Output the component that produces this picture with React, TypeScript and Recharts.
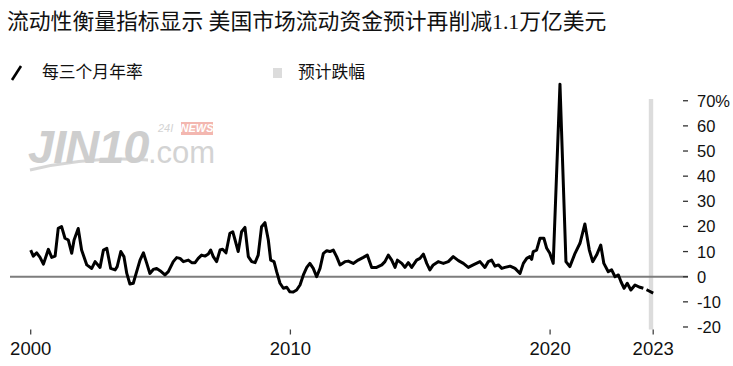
import React from 'react';
import { LineChart, Line, XAxis, YAxis, ReferenceLine, ReferenceArea } from 'recharts';

const dates = [
  2000.0, 2000.1, 2000.23, 2000.36, 2000.49, 2000.68, 2000.81, 2000.94, 2001.06, 2001.19,
  2001.32, 2001.45, 2001.58, 2001.67, 2001.83, 2001.96, 2002.16, 2002.35, 2002.48, 2002.67,
  2002.8, 2002.93, 2003.08, 2003.25, 2003.33, 2003.47, 2003.59, 2003.7, 2003.82, 2003.95,
  2004.08, 2004.21, 2004.34, 2004.47, 2004.59, 2004.72, 2004.85, 2004.98, 2005.17, 2005.3,
  2005.49, 2005.62, 2005.75, 2005.88, 2006.07, 2006.2, 2006.33, 2006.45, 2006.58, 2006.71,
  2006.84, 2006.93, 2007.03, 2007.16, 2007.29, 2007.39, 2007.52, 2007.67, 2007.78, 2007.87,
  2007.99, 2008.12, 2008.25, 2008.38, 2008.51, 2008.64, 2008.76, 2008.89, 2009.02, 2009.15,
  2009.24, 2009.37, 2009.47, 2009.6, 2009.73, 2009.86, 2009.98, 2010.11, 2010.24, 2010.37,
  2010.5, 2010.63, 2010.75, 2010.88, 2011.01, 2011.14, 2011.27, 2011.4, 2011.52, 2011.65,
  2011.78, 2011.91, 2012.1, 2012.23, 2012.42, 2012.61, 2012.81, 2012.96, 2013.13, 2013.32,
  2013.52, 2013.64, 2013.77, 2013.9, 2014.03, 2014.12, 2014.29, 2014.41, 2014.54, 2014.67,
  2014.86, 2014.99, 2015.12, 2015.25, 2015.37, 2015.5, 2015.69, 2015.89, 2016.08, 2016.27,
  2016.47, 2016.66, 2016.85, 2017.04, 2017.3, 2017.49, 2017.62, 2017.75, 2017.88, 2018.01,
  2018.14, 2018.26, 2018.46, 2018.65, 2018.84, 2018.97, 2019.1, 2019.22, 2019.29, 2019.35,
  2019.48, 2019.61, 2019.76, 2019.87, 2019.99, 2020.12, 2020.38, 2020.61, 2020.76, 2020.96,
  2021.15, 2021.34, 2021.51, 2021.64, 2021.79, 2021.95, 2022.07, 2022.24, 2022.37, 2022.5,
  2022.63, 2022.73, 2022.85, 2022.97, 2023.11, 2023.27, 2023.46, 2023.59,
];

const liquidity = [
  10.6, 8.2, 9.5, 7.7, 5.0, 10.9, 7.7, 8.2, 19.2, 19.9,
  15.3, 14.6, 9.3, 14.6, 19.2, 10.6, 4.7, 3.3, 6.0, 3.7,
  10.6, 11.3, 3.3, 2.7, 4.0, 10.0, 8.0, 1.3, -2.9, -2.6,
  2.0, 6.6, 9.5, 5.3, 1.3, 2.9, 3.3, 2.4, 0.7, 2.0,
  6.0, 7.6, 7.3, 6.0, 6.6, 5.6, 5.6, 7.3, 8.6, 8.2,
  9.0, 10.6, 8.0, 6.0, 10.6, 10.9, 9.5, 17.3, 17.9, 14.6,
  10.0, 17.9, 19.6, 8.0, 6.0, 5.6, 8.6, 19.9, 21.5, 14.6,
  6.6, 6.0, 2.0, -2.6, -4.6, -4.2, -6.0, -6.1, -5.3, -3.3,
  0.7, 3.7, 5.3, 3.3, 0.0, 3.3, 9.3, 10.3, 10.0, 10.6,
  8.0, 4.7, 6.0, 6.2, 5.3, 6.6, 7.7, 8.6, 3.7, 3.7,
  4.7, 6.0, 8.6, 6.6, 3.7, 6.6, 5.3, 3.7, 5.6, 3.7,
  6.6, 7.3, 9.0, 5.3, 2.7, 4.7, 6.0, 5.3, 6.0, 8.0,
  6.4, 5.3, 3.7, 4.7, 6.0, 3.7, 6.0, 6.6, 4.2, 4.7,
  3.3, 3.7, 4.2, 3.3, 1.3, 5.3, 7.3, 8.0, 6.9, 10.0,
  10.6, 15.3, 15.3, 11.3, 9.3, 5.3, 76.6, 6.0, 4.0, 9.3,
  13.3, 21.0, 10.6, 6.0, 8.6, 12.6, 5.3, 2.0, 2.7, 0.0,
  0.7, -2.0, -4.6, -2.6, -5.3, -3.3, -4.2, -4.6,
];

const forecastDates = [2023.59, 2023.72, 2023.97];
const forecastValues = [-4.6, -5.2, -6.5];

const xTicks = [2000, 2010, 2020, 2023.97];
const xTickLabels = ['2000', '2010', '2020', '2023'];
const yTicks = [-20, -10, 0, 10, 20, 30, 40, 50, 60, 70];
const forecastWindow = [2023.8, 2023.97];
const forecastWindowTop = 70.7;

const seriesName = '每三个月年率';
const windowName = '预计跌幅';
const title = '流动性衡量指标显示 美国市场流动资金预计再削减1.1万亿美元';

type Row = { t: number; actual?: number | null; forecast?: number | null };
const data: Row[] = dates.map((t, i) => ({ t, actual: liquidity[i], forecast: null }));
forecastDates.forEach((t, i) => {
  const existing = data.find((r) => r.t === t);
  if (existing) existing.forecast = forecastValues[i];
  else data.push({ t, actual: null, forecast: forecastValues[i] });
});

const sans = '"Liberation Sans", Arial, "Noto Sans CJK SC", sans-serif';

const YTick = (props: any) => {
  const { x, y, payload } = props;
  const v = payload.value;
  const label = v === 70 ? '70%' : String(v);
  return (
    <g>
      <line x1={x - 5} x2={x} y1={y} y2={y} stroke="#333" strokeWidth={1.3} />
      <text x={x + 9} y={y} dy="0.36em" fontSize={16.5} fill="#111" fontFamily={sans} textAnchor="start">
        {label}
      </text>
    </g>
  );
};

export default function App() {
  return (
    <div style={{ position: 'absolute', left: 0, top: 0, width: 733, height: 366, background: '#fff', overflow: 'hidden' }}>
      <div
        style={{
          position: 'absolute',
          left: 7,
          top: 11,
          fontSize: 21.8,
          lineHeight: '22px',
          fontFamily: '"Liberation Serif", "Noto Sans CJK SC", serif',
          color: '#111',
          whiteSpace: 'nowrap',
        }}
      >
        {title}
      </div>
      <svg style={{ position: 'absolute', left: 0, top: 0 }} width={733} height={366}>
        <line x1={12} y1={80} x2={21} y2={66} stroke="#000" strokeWidth={2.6} />
        <rect x={273} y={68} width={9} height={10} fill="#dcdcdc" />
        {/* watermark */}
        <g opacity={0.9}>
          <path d="M30 170 Q 90 156 148 160" stroke="#d2d2d2" strokeWidth={3} fill="none" />
          <text x={28} y={163} fontSize={47} fontWeight={700} fontStyle="italic" fill="#c9c9c9" fontFamily={sans} letterSpacing={-1}>
            JIN10
          </text>
          <text x={148} y={163} fontSize={31} fill="#cfcfcf" fontFamily={sans}>
            .com
          </text>
          <text x={158} y={132} fontSize={11} fill="#cfcfcf" fontFamily={sans} fontStyle="italic">
            24I
          </text>
          <rect x={181} y={122} width={32} height={13} fill="#f2b0a8" />
          <text x={197} y={132} fontSize={11} fontWeight={700} fontStyle="italic" fill="#fff" fontFamily={sans} textAnchor="middle">
            NEWS
          </text>
        </g>
      </svg>
      <div
        style={{
          position: 'absolute',
          left: 42,
          top: 64,
          fontSize: 16.8,
          lineHeight: '18px',
          fontFamily: sans,
          color: '#111',
          whiteSpace: 'nowrap',
        }}
      >
        {seriesName}
      </div>
      <div
        style={{
          position: 'absolute',
          left: 298,
          top: 64,
          fontSize: 16.8,
          lineHeight: '18px',
          fontFamily: sans,
          color: '#111',
          whiteSpace: 'nowrap',
        }}
      >
        {windowName}
      </div>
      <div style={{ position: 'absolute', left: 0, top: 0 }}>
        <LineChart width={733} height={366} data={data} margin={{ top: 75.6, right: 0, bottom: 0, left: 10 }}>
          <XAxis
            dataKey="t"
            type="number"
            domain={[1999.203, 2025.31]}
            ticks={xTicks}
            interval={0}
            tickFormatter={(v: number) => xTickLabels[xTicks.indexOf(v)] ?? ''}
            axisLine={false}
            tickLine={{ stroke: '#444', strokeWidth: 1.3 }}
            tickSize={5}
            tickMargin={7}
            height={36.5}
            tick={{ fontSize: 18.5, fill: '#111', fontFamily: sans }}
          />
          <YAxis
            orientation="right"
            domain={[-21, 80]}
            ticks={yTicks}
            interval={0}
            width={45}
            axisLine={false}
            tickLine={false}
            tickSize={0}
            tickMargin={0}
            tick={<YTick />}
            allowDataOverflow
          />
          <ReferenceArea
            x1={forecastWindow[0]}
            x2={forecastWindow[1]}
            y1={-21}
            y2={forecastWindowTop}
            fill="#dcdcdc"
            fillOpacity={1}
            stroke="none"
          />
          <ReferenceLine y={0} stroke="#7d7d7d" strokeWidth={2} />
          <Line
            type="linear"
            dataKey="actual"
            stroke="#000"
            strokeWidth={3}
            dot={false}
            isAnimationActive={false}
            strokeLinejoin="round"
          />
          <Line
            type="linear"
            dataKey="forecast"
            stroke="#000"
            strokeWidth={3}
            dot={false}
            isAnimationActive={false}
            strokeDasharray="0 3.5 8 30"
          />
        </LineChart>
      </div>
    </div>
  );
}
